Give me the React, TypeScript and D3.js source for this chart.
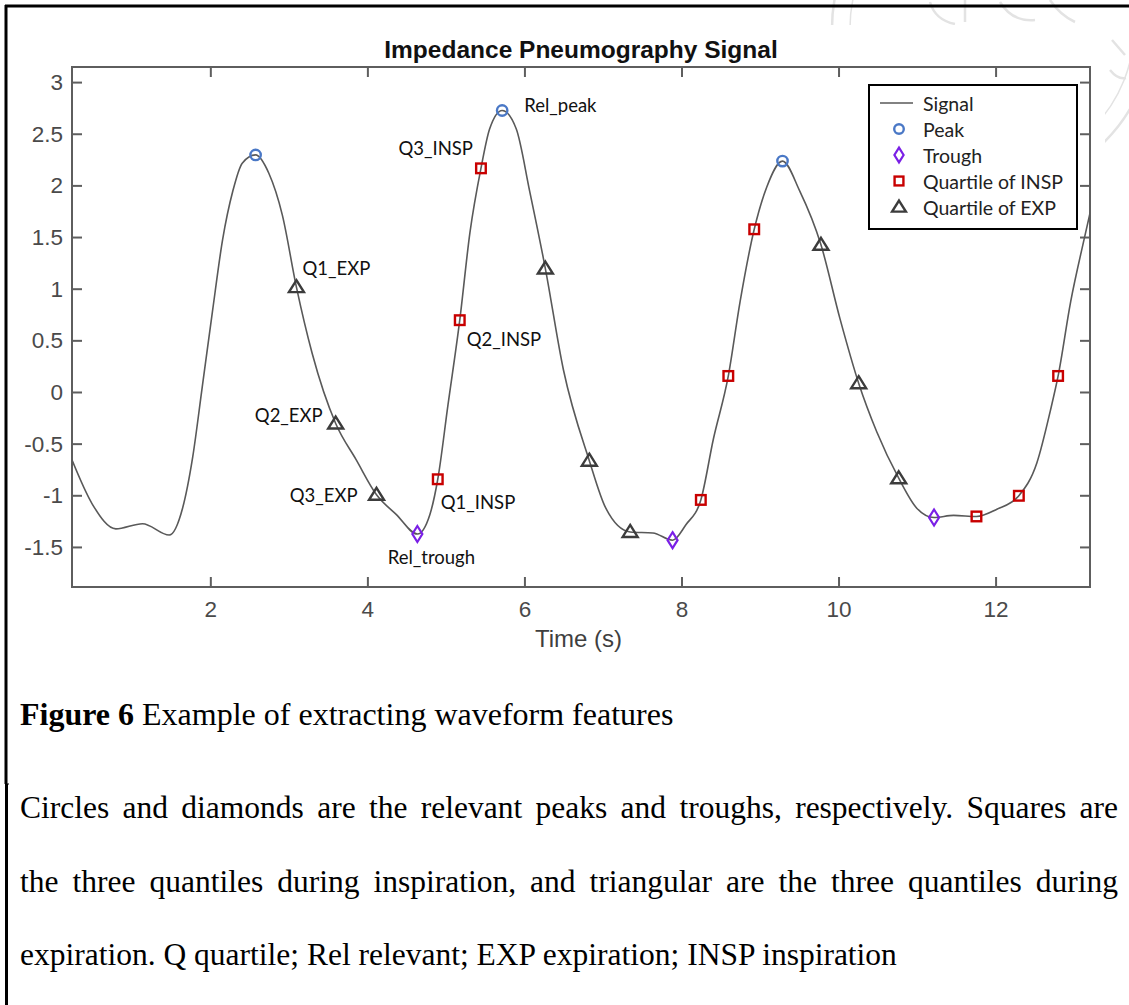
import React, { useEffect, useRef } from "react";
import * as d3 from "d3";

// ---------- data ----------
const TIME = [
  0.23, 0.49, 0.79, 1.13, 1.47, 1.64, 1.77, 1.89, 2.02, 2.15, 2.28, 2.4, 2.57, 2.74, 2.91, 3.09, 3.29, 3.59,
  3.85, 4.11, 4.36, 4.63, 4.79, 4.89, 5.02, 5.17, 5.3, 5.44, 5.55, 5.71, 5.89, 6.06, 6.26, 6.49, 6.82, 7.03,
  7.34, 7.63, 7.88, 8.05, 8.24, 8.4, 8.59, 8.74, 8.92, 9.08, 9.28, 9.5, 9.77, 10.01, 10.25, 10.48, 10.76,
  10.99, 11.21, 11.46, 11.75, 12.01, 12.29, 12.52, 12.69, 12.79, 12.95, 13.12, 13.2,
];
const SIGNAL = [
  -0.65, -1.08, -1.32, -1.27, -1.38, -1.12, -0.62, 0.05, 0.78, 1.48, 1.95, 2.22, 2.3, 2.12, 1.72, 1.02, 0.38,
  -0.3, -0.65, -0.99, -1.18, -1.37, -1.18, -0.84, -0.12, 0.7, 1.55, 2.17, 2.55, 2.73, 2.55, 1.95, 1.2, 0.22,
  -0.66, -1.12, -1.35, -1.36, -1.43, -1.28, -1.04, -0.45, 0.16, 0.88, 1.58, 1.99, 2.24, 1.95, 1.43, 0.72,
  0.09, -0.38, -0.83, -1.12, -1.21, -1.19, -1.2, -1.13, -1.0, -0.68, -0.18, 0.16, 0.88, 1.48, 1.75,
];
const PEAK_T = [2.57, 5.71, 9.28];
const PEAK_V = [2.3, 2.73, 2.24];
const TROUGH_T = [4.63, 7.88, 11.21];
const TROUGH_V = [-1.37, -1.43, -1.21];
const INSP_T = [4.89, 5.17, 5.44, 8.24, 8.59, 8.92, 11.75, 12.29, 12.79];
const INSP_V = [-0.84, 0.7, 2.17, -1.04, 0.16, 1.58, -1.2, -1.0, 0.16];
const EXP_T = [3.09, 3.59, 4.11, 6.26, 6.82, 7.34, 9.77, 10.25, 10.76];
const EXP_V = [1.02, -0.3, -0.99, 1.2, -0.66, -1.35, 1.43, 0.09, -0.83];

const X_TICKS = [2, 4, 6, 8, 10, 12];
const Y_TICKS = [3, 2.5, 2, 1.5, 1, 0.5, 0, -0.5, -1, -1.5];
const X_DOMAIN = [0.232, 13.196];
const Y_DOMAIN = [-1.883, 3.151];

const TITLE = "Impedance Pneumography Signal";
const X_LABEL = "Time (s)";
const LEGEND_LABELS = ["Signal", "Peak", "Trough", "Quartile of INSP", "Quartile of EXP"];

// annotation text and the point it belongs to
const ANNOT_TEXT = ["Q1_EXP", "Q2_EXP", "Q3_EXP", "Rel_trough", "Q1_INSP", "Q2_INSP", "Q3_INSP", "Rel_peak"];
const ANNOT_T = [3.09, 3.59, 4.11, 4.63, 4.89, 5.17, 5.44, 5.71];
const ANNOT_V = [1.02, -0.3, -0.99, -1.37, -0.84, 0.7, 2.17, 2.73];

const CAPTION_BOLD = "Figure 6";
const CAPTION_REST = " Example of extracting waveform features";
const BODY_LINES = [
  "Circles and diamonds are the relevant peaks and troughs, respectively. Squares are",
  "the three quantiles during inspiration, and triangular are the three quantiles during",
  "expiration. Q quartile; Rel relevant; EXP expiration; INSP inspiration",
];

// ---------- layout / style ----------
const W = 1129;
const H = 1005;
const PL = 72, PR = 1090, PT = 67, PB = 587;
const AX = "#5e5e5e";
const TXT = "#4a4a4a";
const C_PEAK = "#4a78c6";
const C_TROUGH = "#7a1fe6";
const C_INSP = "#c80000";
const C_EXP = "#3c3c3c";
const C_SIG = "#595959";
const SANS = "'Liberation Sans', Arial, sans-serif";
const CAL = "Lato, 'Open Sans', sans-serif";
const SERIF = "'Liberation Serif', 'Times New Roman', serif";

// label offsets: [dx, dy, anchor]
const ANNOT_LAYOUT: [number, number, string][] = [
  [6, -19, "start"],
  [-13, -8, "end"],
  [-19, 0, "end"],
  [14, 23, "middle"],
  [3, 23, "start"],
  [7, 19, "start"],
  [-8, -20, "end"],
  [22, -5, "start"],
];

const x = d3.scaleLinear().domain(X_DOMAIN).range([PL, PR]);
const y = d3.scaleLinear().domain(Y_DOMAIN).range([PB, PT]);

const triPath = (w: number, h: number) =>
  `M0,${-h * 0.58} L${w / 2},${h * 0.42} L${-w / 2},${h * 0.42} Z`;
const diamondPath = (w: number, h: number) => `M0,${-h / 2} L${w / 2},0 L0,${h / 2} L${-w / 2},0 Z`;

function Marker({ kind, cx, cy, legend = false }: { kind: string; cx: number; cy: number; legend?: boolean }) {
  const k = legend ? 0.92 : 1;
  if (kind === "peak")
    return <circle cx={cx} cy={cy} r={5.2 * k} fill="none" stroke={C_PEAK} strokeWidth={2.4} />;
  if (kind === "trough")
    return (
      <path d={diamondPath(10 * k, 16 * k)} transform={`translate(${cx},${cy})`} fill="none" stroke={C_TROUGH} strokeWidth={2.2} />
    );
  if (kind === "insp")
    return <rect x={cx - 4.8 * k} y={cy - 4.8 * k} width={9.6 * k} height={9.6 * k} fill="none" stroke={C_INSP} strokeWidth={2.4} />;
  return (
    <path d={triPath(15 * k, 12 * k)} transform={`translate(${cx},${cy})`} fill="none" stroke={C_EXP} strokeWidth={2.4} strokeLinejoin="miter" />
  );
}

export default function App() {
  const bodyRef = useRef<SVGGElement>(null);

  useEffect(() => {
    const g = bodyRef.current;
    if (!g) return;
    g.querySelectorAll("text[data-justify]").forEach((node) => {
      const el = node as SVGTextElement;
      const target = +(el.getAttribute("data-justify") || 0);
      el.style.wordSpacing = "0px";
      const natural = el.getComputedTextLength();
      const spaces = ((el.textContent || "").match(/ /g) || []).length;
      if (spaces > 0) el.style.wordSpacing = `${(target - natural) / spaces}px`;
    });
  }, []);

  const pts = TIME.map((t, i) => [t, SIGNAL[i]] as [number, number]);
  const line = d3
    .line<[number, number]>()
    .x((d) => x(d[0]))
    .y((d) => y(d[1]))
    .curve(d3.curveMonotoneX);

  const legendY0 = 103;
  const legendStep = 26;
  const legendKinds = ["line", "peak", "trough", "insp", "exp"];

  return (
    <svg width={W} height={H} style={{ position: "absolute", left: 0, top: 0, display: "block", background: "#fff" }}>
      <defs>
        <clipPath id="plotclip">
          <rect x={PL} y={PT} width={PR - PL} height={PB - PT} />
        </clipPath>
      </defs>

      {/* faint watermark seal behind the figure */}
      <g fill="none" stroke="#e3e3e3" strokeWidth={2.5}>
        <circle cx={992} cy={28} r={160} />
        <circle cx={992} cy={28} r={142} strokeWidth={1.5} />
        <path d="M930,2 Q935,20 955,24 M965,0 L965,22 M1000,2 Q1012,22 1035,20 M1050,0 Q1060,15 1075,22" />
        <path d="M1112,40 L1125,55 M1110,70 Q1118,80 1126,78" />
      </g>

      {/* outer page border */}
      <line x1={5} y1={6} x2={W} y2={6} stroke="#000" strokeWidth={3} />
      <line x1={6} y1={5} x2={6} y2={784} stroke="#000" strokeWidth={3} />
      <line x1={6.5} y1={784} x2={6.5} y2={H} stroke="#000" strokeWidth={3} />
      <line x1={6} y1={784} x2={9} y2={784} stroke="#000" strokeWidth={1} />

      {/* figure image area */}
      <rect x={8} y={25} width={1097} height={640} fill="#fff" />

      {/* title */}
      <text x={(PL + PR) / 2} y={58} textAnchor="middle" fontFamily={SANS} fontWeight="bold" fontSize={24.5} fill="#111">
        {TITLE}
      </text>

      {/* axes box */}
      <rect x={PL} y={PT} width={PR - PL} height={PB - PT} fill="none" stroke={AX} strokeWidth={2} />

      {/* ticks */}
      <g stroke={AX} strokeWidth={2}>
        {X_TICKS.map((t) => (
          <g key={"xt" + t}>
            <line x1={x(t)} x2={x(t)} y1={PB} y2={PB - 10} />
            <line x1={x(t)} x2={x(t)} y1={PT} y2={PT + 10} />
          </g>
        ))}
        {Y_TICKS.map((v) => (
          <g key={"yt" + v}>
            <line x1={PL} x2={PL + 10} y1={y(v)} y2={y(v)} />
            <line x1={PR} x2={PR - 10} y1={y(v)} y2={y(v)} />
          </g>
        ))}
      </g>
      <g fontFamily={SANS} fontSize={22.5} fill={TXT}>
        {X_TICKS.map((t) => (
          <text key={"xl" + t} x={x(t)} y={617} textAnchor="middle">
            {String(t)}
          </text>
        ))}
        {Y_TICKS.map((v) => (
          <text key={"yl" + v} x={PL - 9} y={y(v)} textAnchor="end" dominantBaseline="central">
            {String(v)}
          </text>
        ))}
      </g>
      <text x={578.5} y={647} textAnchor="middle" fontFamily={SANS} fontSize={24} fill="#3f3f3f">
        {X_LABEL}
      </text>

      {/* signal */}
      <path d={line(pts) || ""} fill="none" stroke={C_SIG} strokeWidth={1.6} clipPath="url(#plotclip)" />

      {/* markers */}
      {PEAK_T.map((t, i) => (
        <Marker key={"p" + i} kind="peak" cx={x(t)} cy={y(PEAK_V[i])} />
      ))}
      {TROUGH_T.map((t, i) => (
        <Marker key={"tr" + i} kind="trough" cx={x(t)} cy={y(TROUGH_V[i])} />
      ))}
      {INSP_T.map((t, i) => (
        <Marker key={"in" + i} kind="insp" cx={x(t)} cy={y(INSP_V[i])} />
      ))}
      {EXP_T.map((t, i) => (
        <Marker key={"ex" + i} kind="exp" cx={x(t)} cy={y(EXP_V[i])} />
      ))}

      {/* annotations */}
      <g fontFamily={CAL} fontSize={18.5} fill="#111">
        {ANNOT_TEXT.map((s, i) => (
          <text
            key={"a" + i}
            x={x(ANNOT_T[i]) + ANNOT_LAYOUT[i][0]}
            y={y(ANNOT_V[i]) + ANNOT_LAYOUT[i][1]}
            textAnchor={ANNOT_LAYOUT[i][2] as any}
            dominantBaseline="central"
          >
            {s}
          </text>
        ))}
      </g>

      {/* legend */}
      <g>
        <rect x={869} y={85} width={208} height={144} fill="#fff" stroke="#000" strokeWidth={2} />
        {LEGEND_LABELS.map((s, i) => {
          const cy = legendY0 + i * legendStep;
          const kind = legendKinds[i];
          return (
            <g key={"lg" + i}>
              {kind === "line" ? (
                <line x1={880} x2={913} y1={cy} y2={cy} stroke={C_SIG} strokeWidth={1.6} />
              ) : (
                <Marker kind={kind} cx={899} cy={cy} legend />
              )}
              <text x={923} y={cy} dominantBaseline="central" fontFamily={CAL} fontSize={19.5} fill="#222">
                {s}
              </text>
            </g>
          );
        })}
      </g>

      {/* caption */}
      <text x={20} y={725} fontFamily={SERIF} fontSize={32} fill="#000">
        <tspan fontWeight="bold">{CAPTION_BOLD}</tspan>
        <tspan>{CAPTION_REST}</tspan>
      </text>
      <g ref={bodyRef} fontFamily={SERIF} fontSize={31.5} fill="#000">
        {BODY_LINES.map((s, i) => (
          <text
            key={"b" + i}
            x={20}
            y={818 + i * 73.5}
            {...(i < BODY_LINES.length - 1 ? { "data-justify": 1098 } : {})}
            style={{ whiteSpace: "pre" }}
          >
            {s}
          </text>
        ))}
      </g>
    </svg>
  );
}
